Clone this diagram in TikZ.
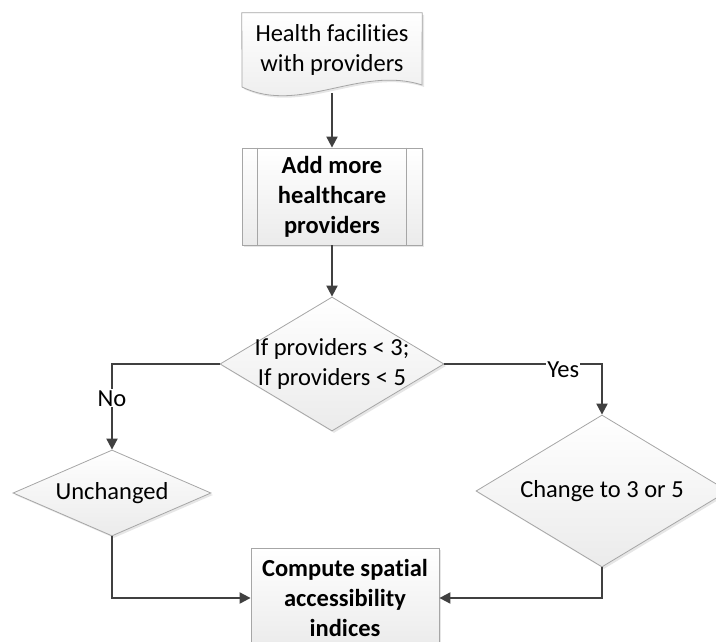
\documentclass[tikz,border=0pt]{standalone}
\usepackage{fontspec}
\setmainfont{Carlito}[Ligatures=CommonOff]
\usepackage{xcolor}
\usepackage{tikz}
\usetikzlibrary{shapes.geometric,arrows.meta,shadows}

\definecolor{linegray}{HTML}{404040}
\definecolor{edgegray}{HTML}{A6A6A6}
\definecolor{fillgray}{HTML}{EBEBEB}

\tikzset{
	txt/.style={align=center, font=\fontsize{24.5}{30}\selectfont},
	shape box/.style={draw=edgegray, line width=0.8pt, top color=white, bottom color=fillgray,
		drop shadow={opacity=0.2, shadow xshift=2pt, shadow yshift=-2pt}},
	procbox/.style={shape box, rectangle, txt, font=\fontsize{24.5}{30}\selectfont\bfseries},
	decision/.style={shape box, diamond, inner sep=0pt},
	conn/.style={draw=linegray, line width=2pt, -{Triangle[length=11pt,width=11pt]}},
	lbl/.style={fill=white, inner sep=1pt, txt}
}

\begin{document}
\begin{tikzpicture}[x=1pt, y=1pt]
	\useasboundingbox (0,0) rectangle (716,-642);

	% document shape with wavy bottom
	\node[minimum width=180pt, minimum height=74pt] (doc) at (332,-50) {};
	\draw[shape box] (doc.north west) -- (doc.north east) -- (422,-85)
		.. controls (360,-65) and (300,-115) .. (242,-87) -- cycle;
	\node[txt] at (doc) {Health facilities\\with providers};
	\coordinate (docbot) at (332,-93);

	% predefined process
	\node[procbox, minimum width=180pt, minimum height=97pt] (addprov) at (332,-196.5) {};
	\draw[edgegray, line width=0.8pt] ([xshift=16pt]addprov.north west) -- ([xshift=16pt]addprov.south west);
	\draw[edgegray, line width=0.8pt] ([xshift=-16pt]addprov.north east) -- ([xshift=-16pt]addprov.south east);
	\node[txt, font=\fontsize{24.5}{30}\selectfont\bfseries] at (addprov) {Add more\\healthcare\\providers};

	\node[decision, minimum width=224pt, minimum height=134pt,
		label={[txt]center:If providers < 3;\\If providers < 5}] (check) at (332,-364) {};
	\node[decision, minimum width=198pt, minimum height=86pt,
		label={[txt]center:Unchanged}] (unch) at (112,-493) {};
	\node[decision, minimum width=252pt, minimum height=152pt,
		label={[txt]center:Change to 3 or 5}] (chg) at (602,-491) {};
	\node[procbox, minimum width=188pt, minimum height=100pt] (comp) at (345,-598) {Compute spatial\\accessibility\\indices};

	\draw[conn] (docbot) -- (addprov.north);
	\draw[conn] (addprov.south) -- (check.north);
	\draw[conn] (check.west) -| node[lbl, pos=0.7] {No} (unch.north);
	\draw[conn] (check.east) -| node[lbl, pos=0.377, yshift=-6pt] {Yes} (chg.north);
	\draw[conn] (unch.south) |- (comp.west);
	\draw[conn] (chg.south) |- (comp.east);
\end{tikzpicture}
\end{document}
